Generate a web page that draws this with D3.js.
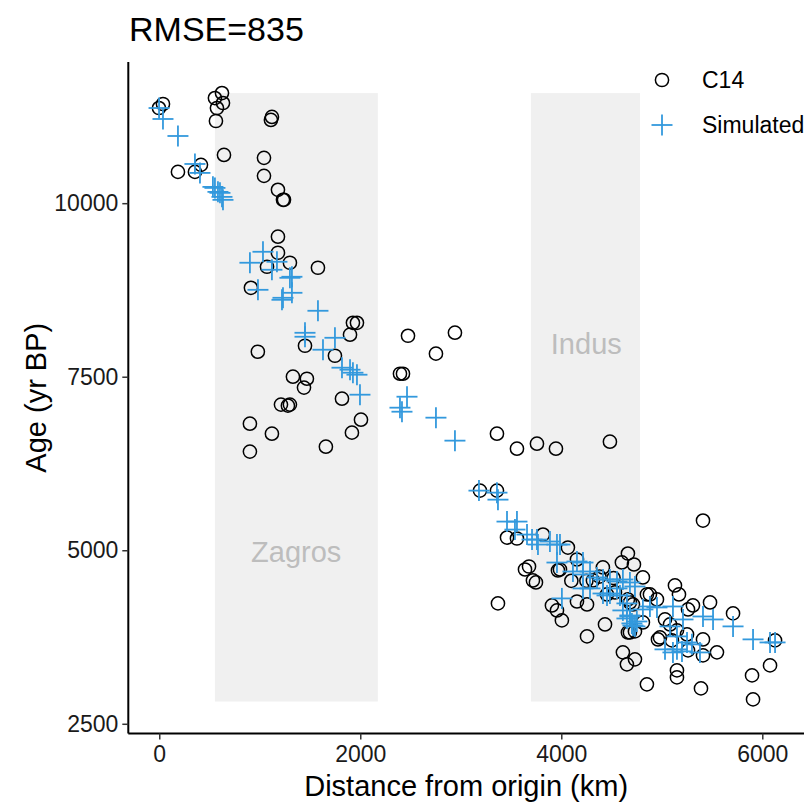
<!DOCTYPE html>
<html><head><meta charset="utf-8">
<script src="https://cdn.jsdelivr.net/npm/d3@7"></script>
<style>body{margin:0;background:#fff;font-family:"Liberation Sans",Arial,sans-serif}</style>
</head><body>
<svg id="chart" width="806" height="802"></svg>
<script>
const title = "RMSE=835";
const xTicks = [0, 2000, 4000, 6000];
const yTicks = [2500, 5000, 7500, 10000];
const regions = [
  {name: "Zagros", x0: 554, x1: 2175, y0: 2821, y1: 11586, lx: 1363, ly: 4980},
  {name: "Indus", x0: 3698, x1: 4783, y0: 2821, y1: 11586, lx: 4249, ly: 7976}
];
// C14 dates: [distance km, age yr BP]
const c14 = [
 [37,11429],[-3,11371],[624,11587],[554,11515],[634,11443],[574,11371],[564,11184],[644,10695],
 [1121,11242],[1111,11199],[1042,10653],[1042,10394],[1181,10193],[1231,10049],[1241,10049],
 [186,10451],[355,10451],[415,10552],[1181,9517],[1181,9286],[1300,9142],[1579,9070],[1072,9084],
 [912,8781],[981,7860],[1927,8277],[1967,8277],[1898,8105],[1450,7946],[1748,7802],[2475,8090],
 [1330,7500],[1469,7471],[1440,7343],[1211,7098],[1280,7083],[1300,7098],[1818,7183],[2395,7543],
 [2425,7543],[902,6823],[1121,6679],[1917,6694],[2007,6881],[902,6421],[1658,6492],[2942,8134],
 [2753,7832],[3360,6679],[3559,6463],[3758,6535],[3947,6463],[4484,6564],[3191,5859],[3360,5859],
 [3460,5183],[3559,5169],[3818,5226],[4066,5039],[3639,4723],[3679,4766],[3718,4565],[3748,4536],
 [3370,4234],[3987,4723],[3967,4709],[4156,4867],[4663,4953],[4603,4824],[4723,4795],[4414,4752],
 [3907,4205],[3957,4133],[4006,3989],[4156,4262],[4256,4219],[4435,3931],[4256,3759],[4613,3529],
 [4733,3428],[4653,3356],[4852,3068],[4315,4565],[4454,4363],[4534,4392],[4663,4291],[4683,3816],
 [4733,3831],[4812,3960],[4852,4363],[4812,4608],[5410,5428],[5131,4493],[5171,4363],[4952,4291],
 [4882,4363],[5032,4003],[5261,4147],[5310,4205],[5480,4248],[5709,4090],[5082,3931],[5151,3845],
 [4982,3744],[4962,3715],[5101,3701],[5251,3787],[5261,3557],[5410,3715],[5410,3485],[5549,3529],
 [5151,3269],[5151,3168],[5390,3010],[5898,3197],[6077,3341],[5908,2851],[6127,3701],[4663,3816],
 [4683,4248],[4713,4219],[4380,4620],[4250,4560],[4520,4600],[4100,4560]
];
// Simulated ages: [distance km, age yr BP]
const simulated = [
 [-2,11371],[37,11213],[186,10968],[355,10565],[405,10436],[534,10235],[554,10220],[584,10163],
 [604,10149],[624,10091],[634,10048],[1032,9300],[902,9142],[1171,9156],[1121,9041],[1320,8940],
 [1300,8925],[982,8752],[1231,8637],[1221,8608],[1320,8709],[1579,8450],[1450,8133],[1450,8076],
 [1748,8061],[1629,7889],[1818,7630],[1898,7601],[1927,7558],[1967,7529],[1997,7241],[2465,7212],
 [2395,7054],[2415,6996],[2753,6910],[2942,6579],[3181,5859],[3360,5830],[3370,5729],[3460,5413],
 [3559,5413],[3539,5298],[3659,5226],[3709,5154],[3758,5154],[3768,5082],[3887,5126],[3957,5082],
 [3987,5082],[3957,4823],[4156,4838],[4216,4823],[4116,4694],[4216,4651],[4286,4694],[4355,4608],
 [4415,4579],[4484,4579],[4554,4550],[4613,4579],[4683,4536],[4733,4478],[4216,4450],[4286,4450],
 [4415,4377],[4484,4377],[4554,4450],[4006,4306],[4613,4133],[4683,4046],[4703,3946],[4733,3903],
 [4455,4349],[4584,4349],[4653,4234],[4683,4061],[4653,4017],[4713,3917],[4752,3974],[4812,4147],
 [4882,4190],[4952,4176],[5111,4190],[5211,4003],[5082,3903],[5151,3759],[5032,3572],[5111,3528],
 [5151,3572],[5201,3543],[5251,3672],[5300,3644],[5380,3528],[5410,4046],[5510,4003],[5709,3903],
 [5908,3716],[6077,3672],[6127,3672]
];

const svg = d3.select("#chart");
const m = {left: 128.3, right: 804, top: 62, bottom: 733.5};
const x = d3.scaleLinear().domain([-308, 6415]).range([m.left, m.right]);
const y = d3.scaleLinear().domain([2360, 12034]).range([m.bottom, m.top]);
const blue = "#3399dd";

svg.append("text").attr("x", 129).attr("y", 41).attr("font-size", 34).attr("fill", "#000").text(title);

const rg = svg.append("g");
rg.selectAll("rect").data(regions).join("rect")
  .attr("x", d => x(d.x0)).attr("width", d => x(d.x1) - x(d.x0))
  .attr("y", d => y(d.y1)).attr("height", d => y(d.y0) - y(d.y1))
  .attr("fill", "#f0f0f0");
rg.selectAll("text").data(regions).join("text")
  .attr("x", d => x(d.lx)).attr("y", d => y(d.ly)).attr("dy", "0.35em")
  .attr("text-anchor", "middle").attr("font-size", 29).attr("fill", "#bdbdbd").text(d => d.name);

svg.append("g").selectAll("circle").data(c14).join("circle")
  .attr("cx", d => x(d[0])).attr("cy", d => y(d[1])).attr("r", 6.6)
  .attr("fill", "none").attr("stroke", "#000").attr("stroke-width", 1.5);

const ps = 10.5;
const pg = svg.append("g").attr("stroke", blue).attr("stroke-width", 1.8);
simulated.forEach(d => {
  const cx = x(d[0]), cy = y(d[1]);
  pg.append("line").attr("x1", cx - ps).attr("x2", cx + ps).attr("y1", cy).attr("y2", cy);
  pg.append("line").attr("x1", cx).attr("x2", cx).attr("y1", cy - ps).attr("y2", cy + ps);
});

const xa = svg.append("g").attr("transform", `translate(0,${m.bottom})`)
  .call(d3.axisBottom(x).tickValues(xTicks).tickSize(6).tickPadding(6).tickFormat(d3.format("d")));
const ya = svg.append("g").attr("transform", `translate(${m.left},0)`)
  .call(d3.axisLeft(y).tickValues(yTicks).tickSize(6).tickPadding(4).tickFormat(d3.format("d")));
[xa, ya].forEach(a => {
  a.select(".domain").attr("stroke", "#000").attr("stroke-width", 2);
  a.selectAll(".tick line").attr("stroke", "#333").attr("stroke-width", 1.5);
  a.selectAll(".tick text").attr("font-size", 23).attr("fill", "#1a1a1a").attr("font-family", "Liberation Sans, Arial, sans-serif");
});
xa.select(".domain").attr("d", `M${m.left},0H${m.right}`);
ya.select(".domain").attr("d", `M0,${m.top}V${m.bottom}`);

svg.append("text").attr("x", (m.left + m.right) / 2).attr("y", 796).attr("text-anchor", "middle")
  .attr("font-size", 29).text("Distance from origin (km)");
svg.append("text").attr("transform", `translate(46,${(m.top + m.bottom) / 2}) rotate(-90)`)
  .attr("text-anchor", "middle").attr("font-size", 29).text("Age (yr BP)");

// legend
const lg = svg.append("g");
lg.append("circle").attr("cx", 662).attr("cy", 80).attr("r", 6.6).attr("fill", "none").attr("stroke", "#000").attr("stroke-width", 1.5);
lg.append("line").attr("x1", 651.5).attr("x2", 672.5).attr("y1", 125).attr("y2", 125).attr("stroke", blue).attr("stroke-width", 1.8);
lg.append("line").attr("x1", 662).attr("x2", 662).attr("y1", 114.5).attr("y2", 135.5).attr("stroke", blue).attr("stroke-width", 1.8);
lg.append("text").attr("x", 702).attr("y", 80).attr("dy", "0.35em").attr("font-size", 23).text("C14");
lg.append("text").attr("x", 702).attr("y", 125).attr("dy", "0.35em").attr("font-size", 23).text("Simulated");
</script>
</body></html>
